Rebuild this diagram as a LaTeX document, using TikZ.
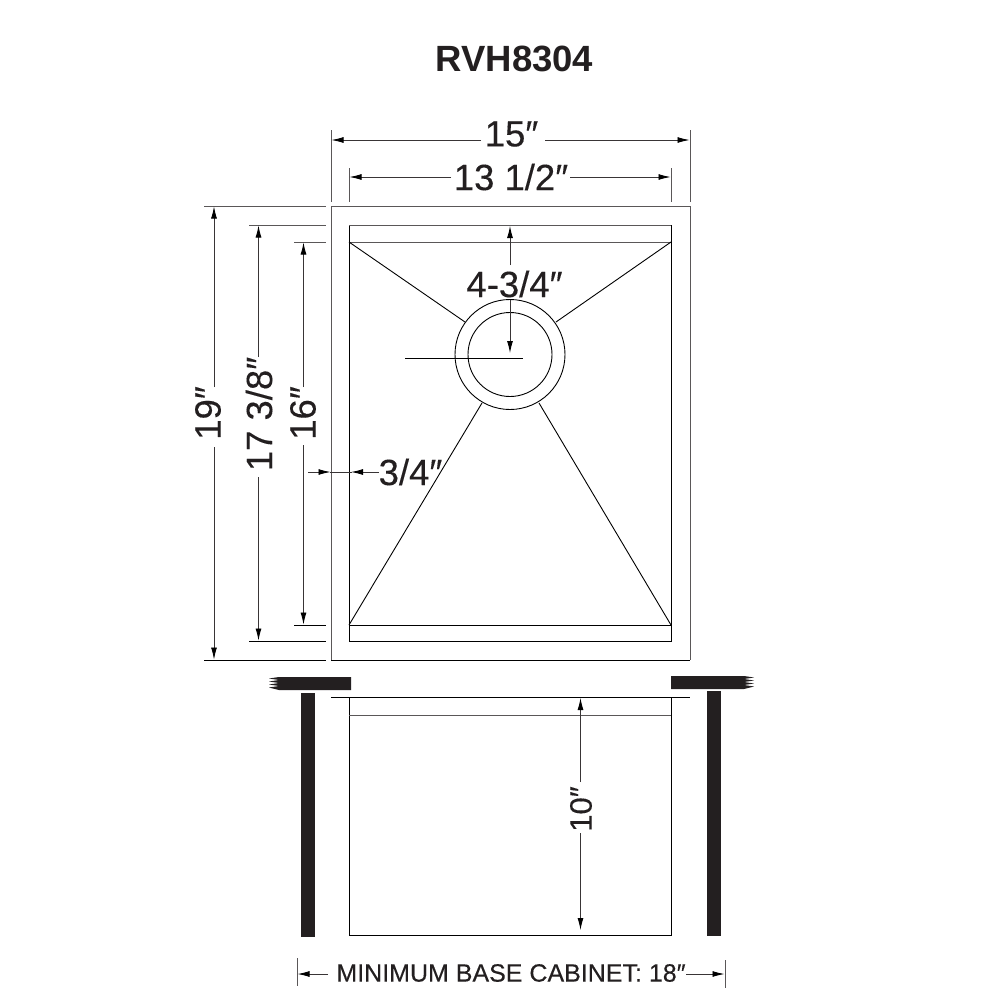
\documentclass[tikz,border=0pt]{standalone}
\usepackage{fontspec}
\setmainfont{Liberation Sans}
\newfontfamily\dimfont[FakeBold=0.25]{Liberation Sans}
\usetikzlibrary{arrows.meta}
\definecolor{ink}{HTML}{231F20}
\tikzset{
	dimline/.style={line width=0.9pt,draw=ink!90,-{Latex[length=12pt,width=6pt,color=black]}},
	extline/.style={line width=1pt,draw=ink!75},
	body/.style={line width=0.9pt,draw=black},
	solid block/.style={fill=ink,draw=none},
	dimtext/.style={font=\dimfont\fontsize{36.5}{36}\selectfont,text=ink,inner sep=0pt},
}
\begin{document}
\begin{tikzpicture}[x=1pt,y=-1pt]
	\useasboundingbox (0,0) rectangle (1001,1005);
	\fill[white] (0,0) rectangle (1001,1005);
	% top view
	\coordinate (A) at (349,242);
	\coordinate (B) at (671,242);
	\coordinate (C) at (671,625);
	\coordinate (D) at (349,625);
	\coordinate (O) at (510,354.5);
	\draw[extline] (331,660) to (331,206) to (690,206) to (690,660);
	\draw[body] (331,660) to (690,660);
	\draw[body] (349,225) to (349,641) to (671,641) to (671,225);
	\draw[extline] (349,225) to (671,225);
	\draw[extline] (A) to (B);
	\draw[body] (D) to (C);
	\draw[line width=0.9pt] (O) circle (55);
	\draw[line width=0.9pt] (O) circle (42);
	\draw[line width=0.9pt] (A) to (465,322);
	\draw[line width=0.9pt] (B) to (556,322);
	\draw[line width=0.9pt] (D) to (482,403);
	\draw[line width=0.9pt] (C) to (539,403);
	\draw[line width=0.9pt] (405,358) to (523,358);
	% labels
	\node[font=\bfseries\fontsize{36.5}{36}\selectfont,text=ink,inner sep=0pt] (title) at (514.5,59) {RVH8304};
	\node[dimtext] (w15) at (511.5,134) {15″};
	\node[dimtext] (w13) at (511,177) {13 1/2″};
	\node[dimtext] (d434) at (514.5,284) {4-3/4″};
	\node[dimtext] (w34) at (410.5,472) {3/4″};
	\node[dimtext,rotate=90] (h19) at (208,413) {19″};
	\node[dimtext,rotate=90] (h17) at (259,414) {17 3/8″};
	\node[dimtext,rotate=90] (h16) at (303,413) {16″};
	\node[dimtext,rotate=90,font=\dimfont\fontsize{31}{31}\selectfont] (h10) at (581,809) {10″};
	\node[font=\dimfont\fontsize{25}{26}\selectfont,text=ink,inner sep=0pt] (cabinet) at (511,973) {MINIMUM BASE CABINET: 18″};
	% width ticks
	\draw[extline] (331,130) to (331,202);
	\draw[extline] (690,130) to (690,202);
	\draw[extline] (349,168) to (349,202);
	\draw[extline] (671,168) to (671,202);
	\draw[dimline] (481,140) to (331.5,140);
	\draw[dimline] (545,140) to (689.5,140);
	\draw[dimline] (451,177) to (349.5,177);
	\draw[dimline] (570,177) to (670.5,177);
	% height ticks
	\draw[extline] (204,206) to (326,206);
	\draw[body] (204,660) to (326,660);
	\draw[extline] (249,225) to (326,225);
	\draw[body] (249,641) to (326,641);
	\draw[extline] (294,242) to (326,242);
	\draw[body] (294,625) to (326,625);
	\draw[dimline] (214,387) to (214,206.5);
	\draw[dimline] (214,447) to (214,659.5);
	\draw[dimline] (258.5,357) to (258.5,225.5);
	\draw[dimline] (258.5,477) to (258.5,640.5);
	\draw[dimline] (303.5,387) to (303.5,242.5);
	\draw[dimline] (303.5,445) to (303.5,624.5);
	% drain
	\draw[dimline] (510,265) to (510,226);
	\draw[dimline] (510,300) to (510,353);
	% side lip
	\draw[dimline] (308,472) to (330.5,472);
	\draw[dimline] (379,472) to (351,472);
	\draw[line width=0.9pt,draw=ink!90] (330,472) to (352,472);
	% cross section
	\coordinate (E) at (349,697);
	\coordinate (F) at (671,697);
	\coordinate (G) at (671,935);
	\coordinate (H) at (349,935);
	\draw[body] (331,697) to (690,697);
	\draw[body] (F) to (G) to (H) to (E);
	\draw[extline] (349,715) to (671,715);
	\draw[dimline] (580.5,782) to (580.5,698);
	\draw[dimline] (580.5,833) to (580.5,930);
	% counter and cabinet walls
	\fill[solid block] (351,677) -- (279,677) -- (269,678.5) -- (279,680) -- (269,681.5) -- (279,683) -- (269,684.5) -- (279,686) -- (269,687.5) -- (279,690) -- (351,690) -- cycle;
	\fill[solid block] (671,676) -- (744,676) -- (754,677.5) -- (744,679) -- (754,680.5) -- (744,682) -- (754,683.5) -- (744,685) -- (754,686.5) -- (744,689) -- (671,689) -- cycle;
	\fill[solid block] (301,693) rectangle (315,937);
	\fill[solid block] (707,691) rectangle (721,936);
	% cabinet width
	\draw[extline] (297,958) to (297,986);
	\draw[extline] (725,960) to (725,988);
	\draw[dimline] (328,974) to (297.5,974);
	\draw[dimline] (686,974) to (724.5,974);
\end{tikzpicture}
\end{document}
